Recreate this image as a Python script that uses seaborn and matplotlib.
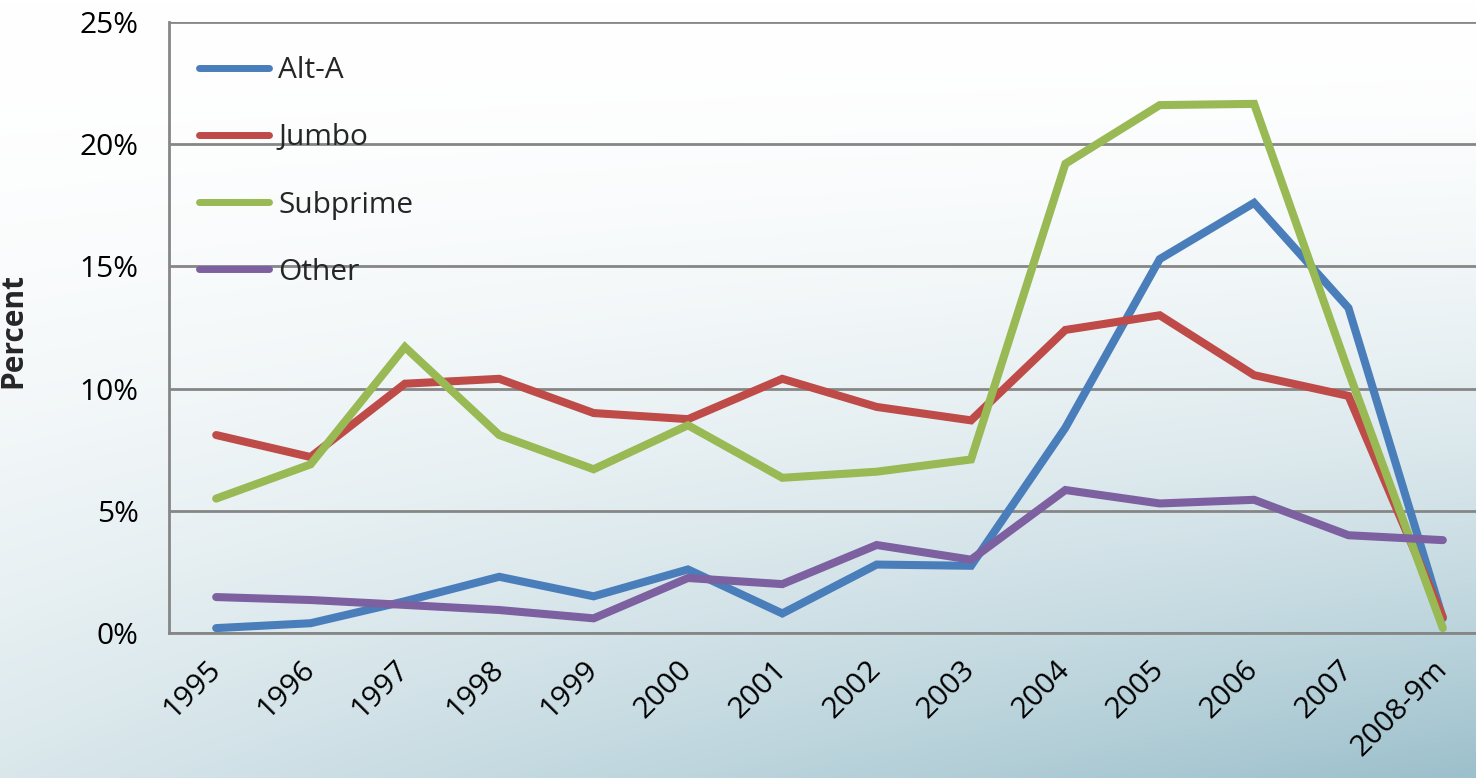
import numpy as np
import pandas as pd
import matplotlib
matplotlib.use("Agg")
import matplotlib.pyplot as plt
import matplotlib.transforms as mtransforms
from matplotlib.colors import to_rgb
import seaborn as sns

# Share of mortgage originations by year (percent)
periods = ["1995", "1996", "1997", "1998", "1999", "2000", "2001",
           "2002", "2003", "2004", "2005", "2006", "2007", "2008-9m"]
alt_a = [0.2, 0.4, 1.3, 2.3, 1.5, 2.6, 0.8, 2.8, 2.75, 8.4, 15.3, 17.6, 13.3, 0.6]
jumbo = [8.1, 7.2, 10.2, 10.4, 9.0, 8.75, 10.4, 9.25, 8.7, 12.4, 13.0, 10.55, 9.7, 0.65]
subprime = [5.5, 6.9, 11.7, 8.1, 6.7, 8.5, 6.35, 6.6, 7.1, 19.2, 21.6, 21.65, 10.7, 0.2]
other = [1.47, 1.35, 1.15, 0.94, 0.6, 2.25, 2.0, 3.6, 3.0, 5.85, 5.3, 5.45, 4.0, 3.8]
series_names = ["Alt-A", "Jumbo", "Subprime", "Other"]
y_ticks = [0, 5, 10, 15, 20, 25]

colors = ["#4A7EBB", "#BE4B48", "#98B954", "#7D60A0"]

rows = []
for name, vals in zip(series_names, [alt_a, jumbo, subprime, other]):
    for i, v in enumerate(vals):
        rows.append({"pos": i, "period": periods[i], "series": name, "value": v})
df = pd.DataFrame(rows)

sns.set_theme(style="white")
plt.rcParams["font.family"] = ["Open Sans", "DejaVu Sans"]

W, H = 1476, 778
fig = plt.figure(figsize=(W / 100, H / 100), dpi=100)

# Diagonal background wash: white at the top, steel blue toward the lower right
bg = fig.add_axes([0, 0, 1, 1], zorder=0)
xx, yy = np.meshgrid(np.linspace(0, 1, 300), np.linspace(0, 1, 160))
f = np.clip((yy ** 1.8) * (0.38 + 0.62 * xx), 0, 1)
c0 = np.array(to_rgb("#FFFFFF"))
c1 = np.array(to_rgb("#9CC0CC"))
img = c0[None, None, :] * (1 - f[..., None]) + c1[None, None, :] * f[..., None]
bg.imshow(img, aspect="auto", extent=[0, 1, 1, 0], interpolation="bilinear")
bg.set_axis_off()

ax_w, ax_h = 1321, 611
ax = fig.add_axes([169 / W, 1 - 633 / H, ax_w / W, ax_h / H], zorder=1)
ax.patch.set_alpha(0)

sns.lineplot(data=df, x="pos", y="value", hue="series", hue_order=series_names,
             palette=colors, linewidth=5.8, sort=False, legend=False, ax=ax)
for ln in ax.lines:
    ln.set_solid_capstyle("round")
    ln.set_solid_joinstyle("miter")

ax.set_xlim(-0.5, len(periods) - 0.5)
ax.set_ylim(0, 25)
ax.set_yticks(y_ticks)
ax.set_yticklabels([f"{t}%" for t in y_ticks])
ax.set_xticks(range(len(periods)))
ax.set_xticklabels(periods, rotation=45, ha="right", va="center",
                   rotation_mode="anchor")
offset = mtransforms.ScaledTranslation(14 / 100, 0, fig.dpi_scale_trans)
for lab in ax.get_xticklabels():
    lab.set_transform(lab.get_transform() + offset)

ax.tick_params(axis="y", length=0, pad=22, labelsize=21.5, colors="black")
ax.tick_params(axis="x", length=0, pad=23, labelsize=21.5, colors="black")
ax.set_xlabel("")
ax.set_ylabel("Percent", fontsize=21.5, fontweight="bold")
ax.yaxis.set_label_coords((28 - 169) / ax_w, (633 - 330) / ax_h)

grid_col = "#868686"
ax.yaxis.grid(True, color=grid_col, linewidth=2.0)
ax.xaxis.grid(False)
ax.set_axisbelow(True)
for side in ["top", "right"]:
    ax.spines[side].set_visible(False)
for side in ["left", "bottom"]:
    ax.spines[side].set_color(grid_col)
    ax.spines[side].set_linewidth(2.0)

leg = ax.legend(ax.lines, series_names, loc="upper left",
                bbox_to_anchor=(30 / ax_w, 0.944), frameon=False,
                fontsize=21.5, handlelength=2.35, handletextpad=0.3,
                labelspacing=1.28, borderpad=0, borderaxespad=0)
for h in leg.get_lines():
    h.set_linewidth(5.0)
    h.set_solid_capstyle("round")

fig.savefig("out.png", dpi=100)
